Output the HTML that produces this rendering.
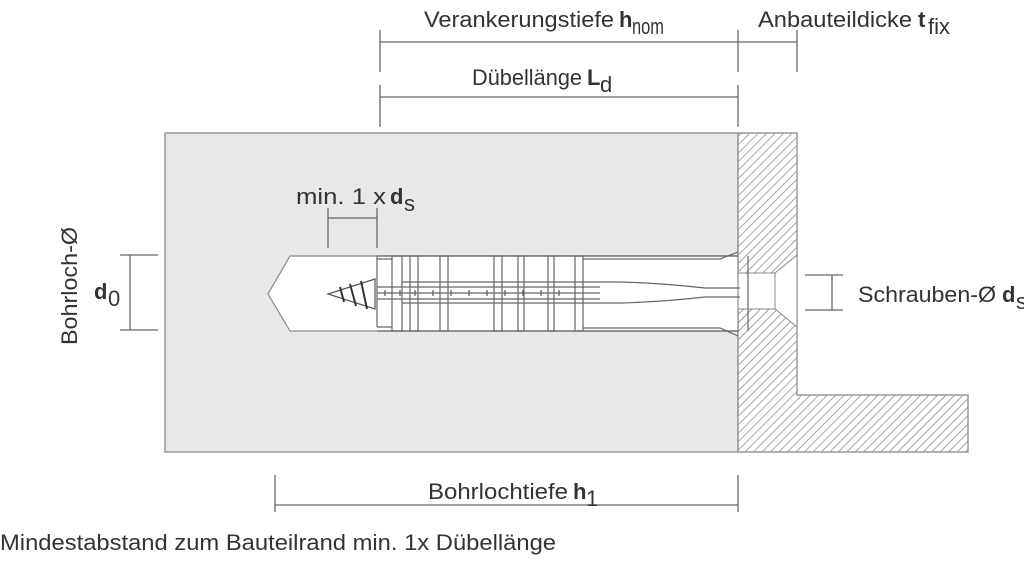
<!DOCTYPE html>
<html><head><meta charset="utf-8"><style>
html,body{margin:0;padding:0;background:#fff;}
svg{display:block;}
text{font-family:"Liberation Sans Narrow","Liberation Sans",sans-serif;fill:#333;font-size:22px;}
</style></head><body>
<svg width="1024" height="561" viewBox="0 0 1024 561" xmlns="http://www.w3.org/2000/svg">
<defs>
<pattern id="h" width="6" height="6" patternUnits="userSpaceOnUse" patternTransform="rotate(45)">
<rect width="6" height="6" fill="#fff"/><line x1="0" y1="0" x2="0" y2="6" stroke="#777" stroke-width="1.3"/>
</pattern>
</defs>
<rect x="165" y="133" width="573" height="319" fill="#e8e8e8" stroke="#999" stroke-width="1.5"/>
<path d="M738 133 H797 V395 H968 V452 H738 Z" fill="url(#h)" stroke="#999" stroke-width="1.5"/>
<path d="M738 273 H775 L797 255 V327 L775 309 H738 Z" fill="#fff" stroke="#888" stroke-width="1"/>
<line x1="775" y1="273" x2="775" y2="309" stroke="#888"/>
<path d="M738 256 H290 L268 294 L290 331 H738 Z" fill="#fff" stroke="#888" stroke-width="1.2"/>
<g stroke="#666" fill="none" stroke-width="1.2">
<path d="M377 256 L377 327 M377 256 H738 M377 331 H738"/>
<path d="M377 259 H392 M377 327 H392"/>
<rect x="392" y="256" width="10" height="75"/>
<rect x="410" y="256" width="8" height="75"/>
<rect x="440" y="256" width="8" height="75"/>
<rect x="494" y="256" width="8" height="75"/>
<rect x="518" y="256" width="6" height="75"/>
<rect x="548" y="256" width="6" height="75"/>
<rect x="575" y="256" width="8" height="75"/>
<line x1="748" y1="256" x2="748" y2="331"/>
<path d="M583 259 L720 259 L738 252 M583 328 L720 328 L738 336"/>
<path d="M402 282 H620 Q660 283 705 288 H740 M402 303 H620 Q660 302 705 297 H740"/>
<path d="M377 287 H600 M377 299 H600 M377 293 H600"/>
</g>
<g stroke="#555" stroke-width="1.2">
<line x1="385" y1="290" x2="385" y2="296"/><line x1="400" y1="290" x2="400" y2="296"/>
<line x1="415" y1="290" x2="415" y2="296"/><line x1="433" y1="290" x2="433" y2="296"/>
<line x1="451" y1="290" x2="451" y2="296"/><line x1="469" y1="290" x2="469" y2="296"/>
<line x1="487" y1="290" x2="487" y2="296"/><line x1="505" y1="290" x2="505" y2="296"/>
<line x1="523" y1="290" x2="523" y2="296"/><line x1="541" y1="290" x2="541" y2="296"/>
<line x1="559" y1="290" x2="559" y2="296"/>
</g>
<path d="M328 294 L375 279 V309 Z" fill="#fff" stroke="#555" stroke-width="1.2"/>
<g stroke="#333" stroke-width="2"><line x1="340" y1="287" x2="344" y2="302"/><line x1="350" y1="284" x2="356" y2="306"/><line x1="361" y1="281" x2="367" y2="309"/></g>
<g stroke="#666" stroke-width="1.3">
<line x1="380" y1="42" x2="797" y2="42"/><line x1="380" y1="30" x2="380" y2="72"/><line x1="738" y1="30" x2="738" y2="72"/><line x1="797" y1="30" x2="797" y2="72"/>
<line x1="380" y1="97" x2="738" y2="97"/><line x1="380" y1="85" x2="380" y2="127"/><line x1="738" y1="85" x2="738" y2="127"/>
<line x1="328" y1="218" x2="377" y2="218"/><line x1="328" y1="208" x2="328" y2="248"/><line x1="377" y1="208" x2="377" y2="248"/>
<line x1="130" y1="255" x2="130" y2="330"/><line x1="120" y1="255" x2="158" y2="255"/><line x1="120" y1="330" x2="158" y2="330"/>
<line x1="832" y1="275" x2="832" y2="310"/><line x1="805" y1="275" x2="843" y2="275"/><line x1="805" y1="310" x2="843" y2="310"/>
<line x1="275" y1="505" x2="738" y2="505"/><line x1="275" y1="475" x2="275" y2="512"/><line x1="738" y1="475" x2="738" y2="512"/>
</g>
<text x="424" y="27" textLength="190" lengthAdjust="spacingAndGlyphs">Verankerungstiefe</text>
<text x="619" y="27" font-weight="bold">h</text><text x="632" y="34" font-size="11" textLength="32" lengthAdjust="spacingAndGlyphs">nom</text>
<text x="758" y="27" textLength="154" lengthAdjust="spacingAndGlyphs">Anbauteildicke</text>
<text x="918" y="27" font-weight="bold">t</text><text x="928" y="34" font-size="11">fix</text>
<text x="472" y="85" textLength="110" lengthAdjust="spacingAndGlyphs">Dübellänge</text>
<text x="587" y="85" font-weight="bold">L</text><text x="600" y="92" font-size="11">d</text>
<text x="296" y="204" textLength="90" lengthAdjust="spacingAndGlyphs">min. 1 x</text>
<text x="390" y="204" font-weight="bold">d</text><text x="404" y="211" font-size="11">s</text>
<text transform="translate(77,345) rotate(-90)" textLength="118" lengthAdjust="spacingAndGlyphs">Bohrloch-Ø</text>
<text x="94" y="299" font-weight="bold">d</text><text x="108" y="306" font-size="11">0</text>
<text x="858" y="302" textLength="138" lengthAdjust="spacingAndGlyphs">Schrauben-Ø</text>
<text x="1002" y="302" font-weight="bold">d</text><text x="1016" y="309" font-size="11">s</text>
<text x="428" y="499" textLength="140" lengthAdjust="spacingAndGlyphs">Bohrlochtiefe</text>
<text x="573" y="499" font-weight="bold">h</text><text x="586" y="506" font-size="11">1</text>
<text x="0" y="550" textLength="556" lengthAdjust="spacingAndGlyphs">Mindestabstand zum Bauteilrand min. 1x Dübellänge</text>
</svg>
</body></html>
